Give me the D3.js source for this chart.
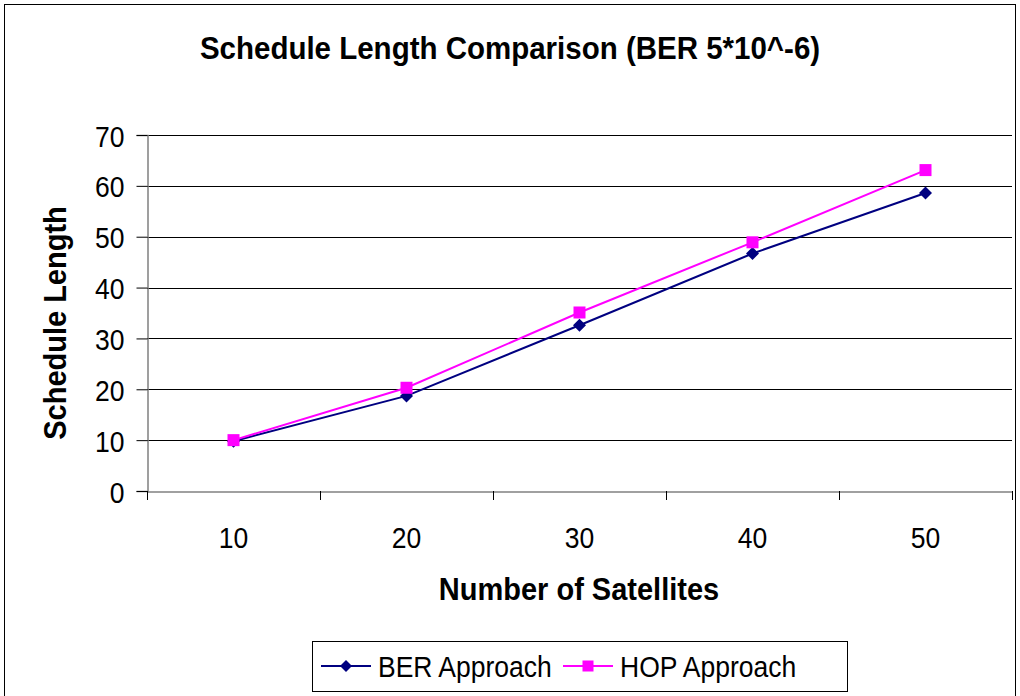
<!DOCTYPE html>
<html><head><meta charset="utf-8">
<script src="https://cdn.jsdelivr.net/npm/d3@7"></script>
<style>body{margin:0;background:#fff}svg{display:block;font-family:"Liberation Sans",Arial,sans-serif}</style>
</head><body>
<svg id="c" width="1020" height="696"></svg>
<script>
const categories = ["10","20","30","40","50"];
const berValues = [9.8, 18.7, 32.6, 46.7, 58.6];
const hopValues = [10.0, 20.3, 35.1, 48.9, 63.1];
const yTicks = [0,10,20,30,40,50,60,70];
const seriesNames = ["BER Approach","HOP Approach"];

const FONT = "Liberation Sans, Arial, sans-serif";
const svg = d3.select("#c");
svg.append("rect").attr("x",4.5).attr("y",4.5).attr("width",1011).attr("height",700)
  .attr("fill","#fff").attr("stroke","#000").attr("stroke-width",1);

const L=147, R=1012, T=135, B=491;
const x = d3.scaleBand().domain(categories).range([L,R]);
const y = d3.scaleLinear().domain([0,70]).range([B,T]);

// gridlines
svg.append("g").selectAll("line").data(yTicks.filter(d=>d>0)).join("line")
  .attr("x1",L).attr("x2",R).attr("y1",d=>Math.round(y(d))+0.5).attr("y2",d=>Math.round(y(d))+0.5)
  .attr("stroke","#000").attr("stroke-width",1);

// y axis (ticks via d3 axis, labels drawn with vertical stretch)
const ya = svg.append("g").attr("transform",`translate(${L+0.5},0)`)
  .call(d3.axisLeft(y).tickValues(yTicks).tickSize(11).tickPadding(12).tickFormat(d3.format("d")));
ya.select(".domain").attr("stroke","#808080").attr("stroke-width",1.5);
ya.selectAll(".tick line").attr("stroke","#000");
ya.selectAll(".tick text")
  .attr("font-size",26.5).attr("fill","#000").attr("font-family",FONT)
  .attr("dy",null).attr("y",0)
  .attr("transform","translate(-23,11) scale(1,1.13)").attr("x",0);

// x axis
const xa = svg.append("g").attr("transform",`translate(0,${B+0.5})`)
  .call(d3.axisBottom(x).tickSize(0).tickPadding(34));
xa.select(".domain").attr("stroke","#808080").attr("stroke-width",1.5);
xa.selectAll(".tick text")
  .attr("font-size",26.5).attr("fill","#000").attr("font-family",FONT)
  .attr("dy",null).attr("y",0).attr("transform","translate(0,56) scale(1,1.13)");
// category separators
svg.append("g").selectAll("line").data(categories.concat(["end"])).join("line")
  .attr("x1",(d,i)=>Math.round(L+i*x.bandwidth())+0.5).attr("x2",(d,i)=>Math.round(L+i*x.bandwidth())+0.5)
  .attr("y1",B).attr("y2",B+9).attr("stroke","#000");

const cx = d => x(d)+x.bandwidth()/2;
const line = d3.line().x((d,i)=>cx(categories[i])).y(d=>y(d));

const colors = ["#000080","#FF00FF"];
[berValues,hopValues].forEach((vals,k)=>{
  svg.append("path").datum(vals).attr("d",line).attr("fill","none").attr("stroke",colors[k]).attr("stroke-width",2);
});
// BER markers diamonds
svg.append("g").selectAll("path").data(berValues).join("path")
  .attr("transform",(d,i)=>`translate(${cx(categories[i])},${y(d)})`)
  .attr("d","M0,-6.5L6.5,0L0,6.5L-6.5,0Z").attr("fill",colors[0]);
// HOP markers squares
svg.append("g").selectAll("rect").data(hopValues).join("rect")
  .attr("x",(d,i)=>cx(categories[i])-6).attr("y",d=>y(d)-6).attr("width",12).attr("height",12)
  .attr("fill",colors[1]);

// titles
svg.append("text").attr("transform","translate(510,59) scale(1,1.05)").attr("text-anchor","middle")
  .attr("font-size",29.5).attr("font-weight","bold").text("Schedule Length Comparison (BER 5*10^-6)");
svg.append("text").attr("transform","translate(579,600) scale(1,1.06)").attr("text-anchor","middle")
  .attr("font-size",29).attr("font-weight","bold").text("Number of Satellites");
svg.append("text").attr("transform","translate(66,323) rotate(-90) scale(1,1.06)").attr("text-anchor","middle")
  .attr("font-size",29).attr("font-weight","bold").text("Schedule Length");

// legend
const lg = svg.append("g");
lg.append("rect").attr("x",312.5).attr("y",641.5).attr("width",535).attr("height",50)
  .attr("fill","#fff").attr("stroke","#000");
const lx = [321, 563];
seriesNames.forEach((n,k)=>{
  const g = lg.append("g").attr("transform",`translate(${lx[k]},666)`);
  g.append("line").attr("x1",0).attr("x2",50).attr("y1",0).attr("y2",0).attr("stroke",colors[k]).attr("stroke-width",2);
  if(k===0) g.append("path").attr("d","M25,-6L31,0L25,6L19,0Z").attr("fill",colors[0]);
  else g.append("rect").attr("x",19.5).attr("y",-5.5).attr("width",11).attr("height",11).attr("fill",colors[1]);
  g.append("text").attr("transform","translate(57,11) scale(1,1.13)").attr("font-size",26.5).text(n);
});
</script>
</body></html>
